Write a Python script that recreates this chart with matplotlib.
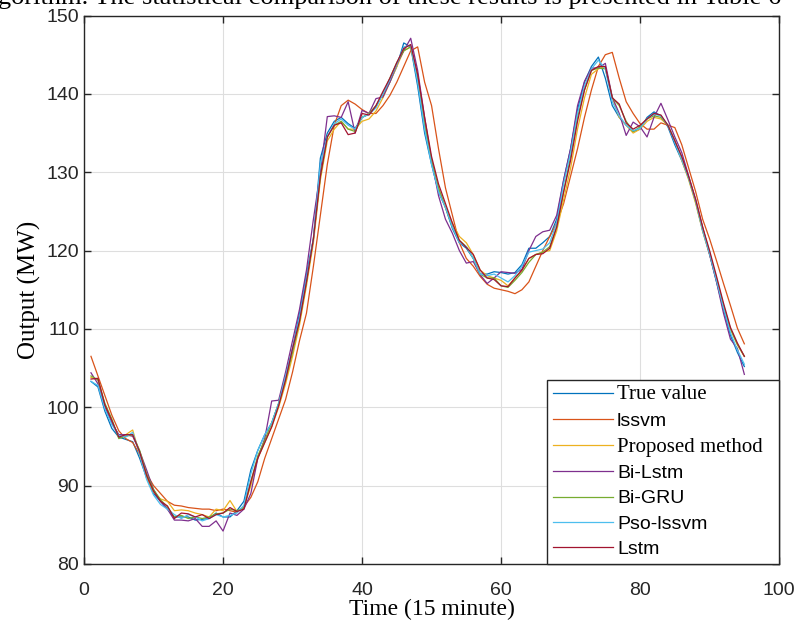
#!/usr/bin/env python3
"""forecast comparison chart: output (MW) vs time step"""

import matplotlib
matplotlib.use("Agg")
import matplotlib.pyplot as plt

# time steps (15 minute)
steps = list(range(1, 96))

true_value = [103.3, 102.6, 99.5, 97.3, 96.2, 95.9, 95.6, 93.5, 91.0, 89.0,
              88.0, 87.0, 86.0, 86.0, 86.0, 85.6, 85.7, 85.8, 86.5, 86.0,
              86.0, 86.8, 88.0, 92.0, 94.5, 96.5, 98.0, 100.5, 104.0, 107.5,
              112.0, 117.0, 121.5, 131.8, 135.0, 136.5, 137.0, 136.2, 135.6, 137.0,
              137.4, 138.4, 140.0, 141.5, 143.5, 146.5, 146.0, 141.0, 135.0, 131.0,
              127.5, 125.5, 122.8, 121.0, 120.3, 119.0, 117.0, 117.0, 117.3, 117.2,
              117.0, 117.2, 118.2, 120.3, 120.3, 121.0, 121.8, 124.0, 129.0, 133.0,
              138.0, 141.5, 143.5, 144.7, 142.0, 138.5, 137.0, 136.0, 135.2, 135.5,
              137.0, 137.7, 137.2, 135.8, 133.5, 131.5, 129.2, 126.2, 122.5, 119.5,
              116.0, 112.5, 109.2, 107.0, 105.2]

lssvm = [106.5, 104.0, 101.5, 99.0, 97.0, 96.0, 95.5, 94.0, 91.5, 90.0,
         89.0, 88.0, 87.5, 87.4, 87.2, 87.1, 87.0, 87.0, 86.8, 87.0,
         86.8, 86.6, 87.3, 88.5, 90.5, 93.5, 96.0, 98.5, 101.0, 104.5,
         108.5, 112.0, 118.0, 124.5, 131.0, 136.0, 138.5, 139.2, 138.7, 138.0,
         137.5, 137.5, 138.5, 139.8, 141.5, 143.5, 145.5, 146.0, 141.5, 138.5,
         133.0, 128.0, 124.5, 121.0, 119.0, 118.0, 116.7, 115.7, 115.2, 115.0,
         114.8, 114.5, 115.0, 116.0, 118.0, 120.0, 121.8, 123.5, 126.0, 129.5,
         133.0, 137.0, 140.5, 143.5, 145.0, 145.3, 142.0, 139.0, 137.5, 136.2,
         135.5, 135.5, 136.3, 136.0, 135.7, 133.5, 130.5, 127.5, 124.0, 121.5,
         118.7, 115.8, 113.0, 110.1, 108.1]

proposed = [103.8, 103.5, 100.2, 98.0, 96.5, 96.5, 97.1, 94.0, 91.0, 89.2,
            88.3, 88.0, 86.8, 86.9, 86.8, 86.5, 86.3, 86.0, 87.0, 86.8,
            88.1, 86.7, 87.2, 90.0, 93.5, 95.5, 97.5, 100.0, 103.0, 106.5,
            110.5, 115.5, 121.0, 129.0, 134.0, 135.5, 136.5, 135.5, 135.5, 136.5,
            136.8, 137.8, 139.5, 141.5, 143.5, 145.5, 146.0, 142.0, 136.5, 131.5,
            128.0, 125.5, 123.5, 121.8, 121.0, 119.5, 117.5, 116.8, 116.5, 116.2,
            115.5, 116.5, 117.5, 119.0, 119.5, 119.8, 120.0, 122.5, 126.5, 130.5,
            135.5, 139.5, 142.5, 143.2, 143.5, 139.5, 137.0, 136.0, 135.0, 135.5,
            136.5, 137.0, 136.8, 136.0, 134.0, 131.5, 129.0, 126.0, 122.5, 119.5,
            116.5, 113.0, 110.0, 108.0, 106.5]

bi_lstm = [104.4, 103.0, 100.0, 98.0, 96.5, 96.5, 96.3, 94.4, 92.0, 89.5,
           88.0, 87.0, 85.6, 85.6, 85.5, 85.8, 84.8, 84.8, 85.5, 84.2,
           86.5, 86.2, 87.0, 89.0, 93.5, 96.0, 100.8, 100.9, 104.5, 108.5,
           112.5, 117.5, 124.0, 130.0, 137.1, 137.2, 137.0, 139.0, 135.0, 137.9,
           137.5, 139.4, 139.6, 141.5, 143.8, 145.5, 147.1, 143.0, 137.0, 131.5,
           127.0, 124.0, 122.2, 120.0, 118.4, 118.6, 116.9, 115.8, 116.5, 117.3,
           117.2, 117.1, 117.6, 120.0, 121.8, 122.4, 122.6, 124.5, 129.0, 133.0,
           138.5, 141.6, 143.3, 143.3, 143.9, 139.6, 137.5, 134.7, 136.4, 135.8,
           134.5, 137.0, 138.8, 136.7, 134.5, 132.5, 129.5, 126.5, 123.0, 119.5,
           116.0, 112.0, 108.7, 107.5, 104.2]

bi_gru = [104.0, 103.5, 100.5, 98.5, 96.0, 96.3, 96.5, 94.5, 91.5, 89.5,
          88.2, 87.3, 86.0, 86.2, 85.8, 86.0, 85.8, 86.0, 86.4, 86.5,
          87.0, 86.8, 87.2, 90.5, 93.8, 95.8, 98.0, 100.5, 103.5, 107.0,
          111.0, 116.0, 121.5, 129.5, 134.5, 136.0, 136.5, 135.5, 135.2, 137.0,
          137.5, 138.5, 140.0, 142.0, 144.0, 145.5, 146.0, 142.0, 136.0, 131.5,
          128.0, 125.5, 123.0, 121.3, 120.5, 119.0, 117.0, 116.5, 116.5, 115.5,
          115.3, 116.2, 117.2, 118.5, 119.5, 119.8, 120.5, 123.0, 127.5, 132.0,
          137.0, 140.5, 143.0, 143.3, 143.2, 139.5, 138.5, 136.5, 135.2, 135.8,
          136.8, 137.2, 137.0, 136.0, 134.0, 131.8, 129.2, 126.3, 122.8, 119.8,
          116.3, 113.0, 110.0, 108.0, 106.5]

pso_lssvm = [103.3, 102.8, 99.8, 97.8, 96.4, 96.2, 96.8, 94.0, 90.8, 88.8,
             87.6, 87.0, 86.3, 85.8, 86.3, 86.0, 85.5, 85.8, 86.3, 86.0,
             86.2, 86.5, 87.5, 91.5, 94.5, 96.5, 98.0, 100.5, 104.0, 107.5,
             111.5, 116.5, 121.5, 131.0, 134.5, 136.2, 136.8, 136.0, 135.5, 137.0,
             137.4, 138.2, 140.0, 141.8, 143.8, 146.0, 146.2, 141.5, 135.5, 131.0,
             127.5, 125.5, 123.0, 121.0, 120.5, 119.0, 117.0, 116.8, 117.0, 116.5,
             116.0, 116.8, 118.0, 119.8, 120.0, 120.2, 121.0, 123.5, 128.5, 132.5,
             137.5, 141.0, 143.2, 144.3, 143.2, 139.0, 137.2, 136.0, 135.3, 135.6,
             136.8, 137.4, 137.2, 136.0, 133.8, 131.6, 129.2, 126.3, 122.6, 119.6,
             116.2, 112.7, 109.5, 107.3, 105.5]

lstm = [103.6, 103.7, 100.3, 98.3, 96.2, 96.5, 96.5, 94.3, 91.3, 89.3,
        88.0, 87.4, 85.8, 86.5, 86.4, 86.0, 86.3, 85.8, 86.3, 86.5,
        87.2, 86.7, 87.0, 90.5, 93.5, 95.5, 97.5, 100.2, 103.5, 107.5,
        111.0, 116.0, 121.5, 129.5, 134.5, 136.0, 136.3, 134.8, 135.0, 137.5,
        137.3, 138.5, 140.3, 142.0, 144.0, 145.8, 146.3, 142.5, 137.0, 132.0,
        128.5, 126.0, 123.5, 121.3, 120.4, 119.5, 117.5, 116.5, 116.3, 115.5,
        115.4, 116.5, 117.5, 119.0, 119.5, 119.6, 120.3, 123.0, 127.5, 131.5,
        136.5, 140.5, 143.0, 143.5, 143.5, 139.5, 138.7, 136.3, 135.5, 136.0,
        136.8, 137.5, 137.3, 136.0, 134.0, 132.0, 129.4, 126.5, 123.0, 120.0,
        116.7, 113.3, 110.2, 108.2, 106.5]

series = [
    ("True value", true_value, "#0072BD"),
    ("lssvm", lssvm, "#D95319"),
    ("Proposed method", proposed, "#EDB120"),
    ("Bi-Lstm", bi_lstm, "#7E2F8E"),
    ("Bi-GRU", bi_gru, "#77AC30"),
    ("Pso-lssvm", pso_lssvm, "#4DBEEE"),
    ("Lstm", lstm, "#A2142F"),
]
serif_labels = ("True value", "Proposed method")

sans = ["Liberation Sans", "DejaVu Sans"]
serif = ["Liberation Serif", "DejaVu Serif"]

fig = plt.figure(figsize=(7.95, 6.24), dpi=100)
ax = fig.add_axes([0.1057, 0.0962, 0.8743, 0.8789])

for name, vals, col in series:
    ax.plot(steps, vals, color=col, linewidth=0.9, label=name)

ax.set_xlim(0, 100)
ax.set_ylim(80, 150)
ax.set_xticks(range(0, 101, 20))
ax.set_yticks(range(80, 151, 10))
ax.grid(True, color="#dedede", linewidth=0.8)
ax.set_axisbelow(True)
for s in ax.spines.values():
    s.set_color("#262626")
    s.set_linewidth(1.0)
ax.tick_params(direction="in", length=5, width=1, color="#262626",
               top=True, right=True, labelsize=14, labelcolor="#262626")
ax.tick_params(axis="x", pad=13)
for lab in ax.get_xticklabels() + ax.get_yticklabels():
    lab.set_family(sans)

ax.set_xlabel("Time (15 minute)", family=serif, fontsize=17, labelpad=0)
ax.set_ylabel("Output (MW)", family=serif, fontsize=18, labelpad=4)

leg = ax.legend(loc="lower right", bbox_to_anchor=(0.6662, 0.0, 0.3338, 0.33),
                mode="expand", borderaxespad=0, fancybox=False,
                framealpha=1, edgecolor="#262626", prop={"family": sans, "size": 14},
                handlelength=3.1, handletextpad=0.2, labelspacing=0.4,
                borderpad=0.3)
leg.get_frame().set_linewidth(1.0)
for txt in leg.get_texts():
    if txt.get_text() in serif_labels:
        txt.set_family(serif)
        txt.set_fontsize(15)

# caption of the page above, cut by the top edge
fig.text(-0.003, 0.993, "gorithm. The statistical comparison of these results is presented in Table 6",
         family=serif, fontsize=19, ha="left", va="baseline")

fig.savefig("out.png", dpi=100)
plt.close(fig)
